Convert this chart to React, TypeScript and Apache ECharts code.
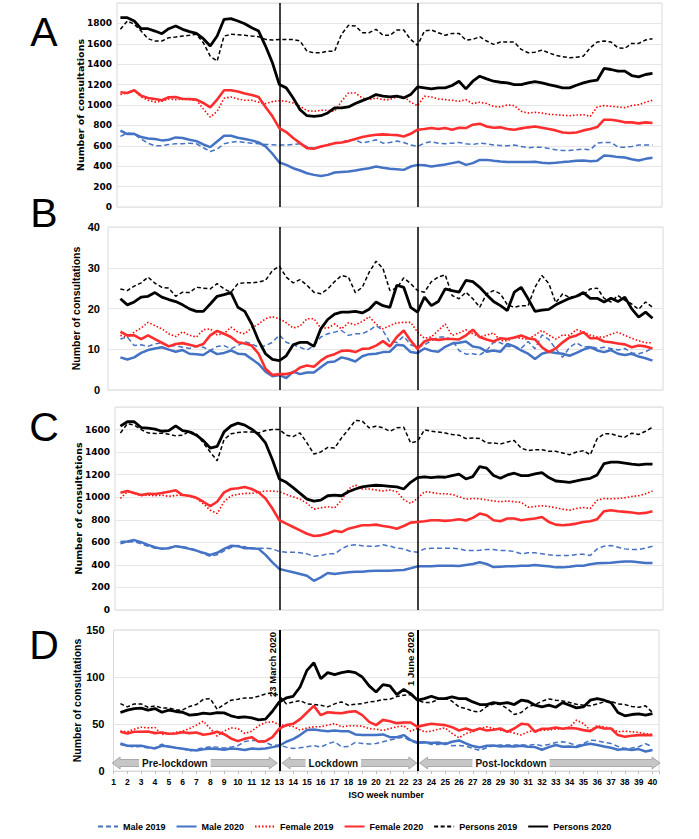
import React, { useEffect, useRef } from "react";
import * as echarts from "echarts";

// x positions: half-week steps from week 1.5 to week 40
const weeks = Array.from({ length: 78 }, (_, i) => 1.5 + i * 0.5);
const seriesNames = ["Male 2019", "Male 2020", "Female 2019", "Female 2020", "Persons 2019", "Persons 2020"];
const xTickWeeks = Array.from({ length: 40 }, (_, i) => i + 1);

// ---------- Panel A ----------
const aMale2019 = [
  692, 725, 715, 666, 626, 600, 600, 613, 620, 620, 626, 620,
  581, 544, 567, 620, 633, 643, 633, 626, 620, 613, 610, 607,
  607, 613, 620, 594, 577, 587, 610, 626, 633, 659, 659, 626,
  643, 659, 626, 633, 646, 633, 607, 594, 626, 640, 626, 620,
  626, 633, 620, 613, 626, 620, 607, 604, 600, 607, 594, 581,
  587, 587, 574, 561, 554, 554, 561, 567, 561, 626, 633, 633,
  587, 587, 594, 607, 607, 607];
const aMale2020 = [
  748, 715, 718, 686, 672, 666, 653, 659, 682, 676, 659, 646,
  613, 587, 643, 699, 699, 679, 666, 653, 633, 594, 522, 436,
  413, 380, 358, 331, 315, 305, 315, 338, 344, 348, 358, 371,
  380, 397, 384, 374, 371, 364, 397, 413, 410, 397, 407, 417,
  430, 443, 413, 430, 462, 462, 453, 446, 440, 440, 440, 440,
  443, 433, 430, 433, 440, 446, 453, 456, 449, 453, 505, 499,
  489, 485, 469, 456, 472, 482];
const aFemale2019 = [
  1102, 1118, 1145, 1079, 1046, 1030, 1036, 1059, 1053, 1059, 1053, 1046,
  961, 882, 938, 1066, 1079, 1059, 1046, 1046, 1027, 1014, 1033, 1043,
  1036, 1020, 987, 945, 938, 948, 948, 938, 1036, 1118, 1118, 1069,
  1053, 1069, 1053, 1053, 1079, 1086, 1027, 994, 1086, 1079, 1059, 1053,
  1046, 1036, 1053, 1014, 1027, 1014, 987, 981, 1000, 994, 938, 922,
  928, 922, 909, 905, 899, 895, 902, 905, 889, 981, 994, 987,
  981, 974, 994, 1004, 1027, 1046];
const aFemale2020 = [
  1125, 1118, 1145, 1092, 1069, 1059, 1046, 1076, 1079, 1059, 1059, 1053,
  1020, 977, 1053, 1145, 1145, 1132, 1112, 1099, 1079, 981, 889, 774,
  735, 676, 626, 577, 571, 594, 607, 626, 633, 646, 666, 686,
  699, 708, 712, 708, 705, 692, 718, 758, 764, 774, 764, 774,
  758, 777, 774, 807, 817, 790, 777, 781, 764, 758, 771, 781,
  790, 777, 764, 751, 731, 725, 731, 751, 764, 784, 856, 856,
  846, 830, 830, 820, 830, 823];
const aPersons2019 = [
  1742, 1824, 1791, 1725, 1650, 1627, 1627, 1660, 1666, 1676, 1683, 1693,
  1611, 1479, 1430, 1676, 1693, 1689, 1683, 1676, 1670, 1643, 1637, 1643,
  1643, 1643, 1627, 1528, 1512, 1512, 1528, 1528, 1693, 1781, 1774, 1709,
  1709, 1742, 1683, 1683, 1735, 1735, 1643, 1584, 1725, 1735, 1709, 1683,
  1702, 1702, 1637, 1643, 1670, 1627, 1594, 1617, 1617, 1617, 1545, 1512,
  1518, 1538, 1512, 1486, 1473, 1463, 1469, 1479, 1561, 1617, 1627, 1617,
  1561, 1555, 1604, 1604, 1637, 1650];
const aPersons2020 = [
  1856, 1856, 1824, 1748, 1748, 1725, 1699, 1748, 1774, 1742, 1719, 1702,
  1650, 1578, 1676, 1840, 1847, 1824, 1797, 1758, 1725, 1578, 1414, 1200,
  1168, 1069, 954, 895, 889, 895, 922, 971, 971, 981, 1014, 1043,
  1069, 1102, 1086, 1079, 1086, 1069, 1102, 1178, 1168, 1158, 1168, 1168,
  1191, 1233, 1158, 1233, 1282, 1256, 1233, 1223, 1217, 1200, 1200, 1217,
  1230, 1217, 1200, 1184, 1168, 1168, 1194, 1217, 1233, 1243, 1358, 1348,
  1332, 1332, 1289, 1276, 1299, 1309];

// ---------- Panel B ----------
const bMale2019 = [
  12.5, 13.0, 10.9, 11.1, 10.7, 11.3, 11.6, 10.7, 10.9, 10.5, 10.2, 10.7,
  10.5, 9.7, 10.7, 10.9, 10.1, 10.9, 11.9, 11.3, 10.5, 10.9, 11.7, 13.5,
  11.7, 11.1, 10.5, 9.8, 10.9, 13.0, 13.8, 14.2, 14.6, 13.4, 13.8, 13.8,
  14.6, 15.8, 14.6, 11.7, 11.7, 13.2, 11.1, 10.5, 11.1, 12.1, 13.0, 13.0,
  12.4, 9.7, 8.8, 8.9, 8.6, 9.7, 11.7, 11.6, 10.7, 10.7, 10.2, 11.9,
  10.1, 13.5, 12.4, 10.1, 8.0, 10.5, 11.6, 10.5, 10.7, 10.2, 10.5, 10.2,
  9.8, 10.2, 9.1, 8.9, 9.4, 10.2];
const bMale2020 = [
  8.0, 7.5, 8.0, 9.1, 9.8, 10.2, 10.5, 9.9, 9.4, 9.8, 8.9, 8.8,
  8.6, 9.7, 8.8, 9.1, 9.7, 8.9, 8.8, 7.6, 6.4, 4.5, 3.4, 3.7,
  2.9, 4.5, 3.9, 4.3, 4.3, 5.6, 6.8, 7.0, 8.0, 7.6, 7.0, 8.3,
  8.8, 8.9, 9.3, 9.4, 11.1, 10.9, 9.3, 9.1, 10.2, 9.6, 9.4, 10.6,
  11.4, 11.6, 11.9, 10.7, 10.4, 9.4, 9.7, 9.4, 11.3, 10.7, 9.7, 8.9,
  7.6, 8.9, 9.4, 9.1, 8.9, 8.4, 9.1, 9.9, 10.5, 9.7, 9.3, 9.8,
  8.9, 8.6, 8.9, 8.2, 7.8, 7.2];
const bFemale2019 = [
  13.4, 13.0, 14.2, 15.2, 16.6, 15.8, 15.0, 13.8, 13.1, 14.3, 13.4, 13.0,
  14.8, 15.0, 13.5, 13.9, 15.4, 14.2, 13.8, 15.2, 16.2, 17.5, 18.0, 17.5,
  16.5, 15.2, 15.7, 17.5, 17.5, 15.2, 15.2, 16.2, 15.0, 16.5, 16.0, 16.8,
  18.0, 16.2, 15.0, 15.8, 16.5, 16.6, 16.6, 14.2, 12.7, 13.0, 14.6, 16.2,
  13.4, 14.0, 14.8, 13.8, 13.0, 13.5, 14.0, 12.1, 12.1, 12.9, 12.7, 12.4,
  13.5, 14.6, 13.5, 12.5, 13.5, 13.4, 14.8, 14.3, 13.5, 13.0, 13.0, 13.7,
  14.2, 13.4, 12.7, 12.1, 11.6, 11.6];
const bFemale2020 = [
  14.3, 13.4, 13.4, 12.5, 13.4, 12.5, 11.6, 10.7, 11.3, 11.5, 11.1, 10.7,
  11.3, 13.4, 14.5, 13.8, 13.0, 11.7, 11.4, 10.9, 8.9, 5.2, 3.7, 3.9,
  3.9, 4.3, 5.5, 6.0, 5.7, 7.2, 8.3, 8.8, 9.6, 9.7, 9.3, 10.1,
  10.2, 10.9, 12.0, 10.7, 13.0, 14.6, 12.1, 10.1, 11.9, 12.5, 12.3, 12.5,
  12.5, 12.4, 13.4, 14.8, 13.0, 12.4, 11.9, 12.7, 12.5, 12.9, 13.4, 12.7,
  12.4, 10.5, 9.3, 10.2, 11.7, 12.9, 13.4, 14.2, 12.7, 12.7, 11.9, 11.7,
  11.4, 11.2, 10.5, 10.9, 10.7, 10.2];
const bPersons2019 = [
  24.8, 24.4, 25.5, 26.3, 27.7, 26.2, 25.2, 25.0, 23.0, 24.0, 23.9, 25.2,
  25.0, 24.8, 26.1, 24.8, 24.0, 26.1, 26.3, 26.3, 26.5, 26.9, 29.3, 30.4,
  27.7, 26.3, 27.1, 25.7, 24.0, 23.6, 24.8, 26.6, 28.1, 27.7, 23.9, 25.2,
  28.9, 31.6, 29.8, 24.4, 25.0, 27.5, 26.1, 24.4, 24.0, 26.6, 27.7, 28.3,
  23.2, 22.4, 24.0, 22.4, 20.3, 23.6, 24.4, 23.6, 20.9, 20.3, 20.7, 20.7,
  25.2, 28.1, 26.1, 21.4, 23.6, 22.7, 23.0, 23.4, 24.8, 25.0, 22.5, 21.6,
  23.2, 22.0, 21.1, 19.8, 21.6, 20.3];
const bPersons2020 = [
  22.4, 20.9, 21.6, 22.8, 23.0, 23.9, 22.8, 22.2, 21.7, 20.9, 19.9, 19.3,
  19.3, 21.1, 23.0, 23.4, 23.9, 20.3, 19.3, 16.2, 12.1, 8.9, 7.5, 7.2,
  8.4, 11.1, 11.7, 11.7, 10.7, 15.0, 17.3, 18.6, 19.1, 19.1, 19.3, 18.9,
  19.8, 21.6, 20.7, 20.3, 25.7, 25.2, 20.3, 19.1, 22.8, 20.7, 21.7, 24.8,
  24.4, 24.0, 26.9, 26.6, 25.2, 23.4, 21.7, 20.7, 19.5, 24.0, 25.2, 22.4,
  19.3, 19.6, 19.8, 20.9, 21.7, 22.5, 23.0, 23.9, 22.5, 22.5, 21.6, 22.5,
  21.7, 22.8, 19.9, 17.9, 19.1, 17.6];

// ---------- Panel C ----------
const cMale2019 = [
  587, 602, 605, 587, 566, 548, 548, 554, 566, 563, 548, 530,
  498, 477, 489, 524, 554, 572, 560, 542, 548, 548, 542, 519,
  513, 513, 507, 498, 477, 483, 498, 498, 542, 572, 578, 569,
  566, 566, 578, 566, 548, 542, 519, 513, 542, 548, 548, 548,
  548, 542, 527, 527, 530, 536, 536, 527, 527, 519, 498, 507,
  507, 498, 489, 483, 483, 483, 492, 495, 483, 542, 566, 572,
  557, 542, 536, 536, 548, 566];
const cMale2020 = [
  602, 608, 620, 602, 578, 557, 542, 548, 566, 557, 542, 527,
  507, 489, 507, 542, 569, 566, 548, 548, 542, 489, 423, 364,
  349, 334, 319, 304, 259, 289, 328, 319, 328, 334, 340, 340,
  346, 349, 349, 349, 352, 355, 370, 387, 387, 387, 393, 393,
  393, 390, 399, 408, 423, 408, 381, 384, 387, 387, 393, 393,
  399, 393, 387, 378, 378, 384, 393, 393, 405, 414, 417, 420,
  426, 429, 429, 423, 417, 417];
const cFemale2019 = [
  989, 1049, 1034, 1013, 1019, 1013, 1019, 1007, 1016, 1019, 1007, 992,
  942, 885, 855, 960, 1013, 1025, 1034, 1034, 1043, 1055, 1055, 1049,
  1025, 1004, 983, 945, 894, 906, 915, 906, 974, 1073, 1109, 1073,
  1073, 1064, 1055, 1064, 1049, 980, 945, 989, 1049, 1043, 1031, 1031,
  1025, 1004, 983, 989, 986, 977, 966, 960, 966, 960, 954, 912,
  918, 924, 918, 906, 894, 885, 900, 909, 900, 974, 989, 986,
  989, 995, 1007, 1013, 1031, 1055];
const cFemale2020 = [
  1040, 1055, 1037, 1019, 1031, 1028, 1037, 1049, 1061, 1019, 1013, 995,
  960, 921, 960, 1043, 1073, 1079, 1091, 1073, 1043, 989, 900, 796,
  766, 736, 706, 676, 656, 662, 679, 703, 691, 721, 736, 751,
  751, 757, 745, 736, 721, 745, 775, 781, 787, 796, 796, 790,
  796, 805, 793, 817, 855, 840, 796, 787, 811, 811, 796, 805,
  811, 825, 781, 757, 751, 757, 766, 781, 787, 805, 876, 885,
  876, 870, 864, 855, 861, 876];
const cPersons2019 = [
  1570, 1651, 1639, 1600, 1570, 1565, 1568, 1559, 1544, 1550, 1585, 1562,
  1481, 1401, 1323, 1511, 1562, 1573, 1579, 1579, 1570, 1591, 1600, 1600,
  1550, 1538, 1570, 1481, 1383, 1401, 1442, 1436, 1526, 1600, 1681, 1675,
  1615, 1630, 1615, 1585, 1615, 1621, 1481, 1496, 1597, 1585, 1579, 1570,
  1556, 1550, 1520, 1526, 1520, 1481, 1481, 1472, 1490, 1502, 1436, 1413,
  1421, 1421, 1407, 1407, 1392, 1377, 1401, 1413, 1377, 1520, 1562, 1562,
  1544, 1532, 1568, 1556, 1585, 1621];
const cPersons2020 = [
  1630, 1669, 1669, 1618, 1612, 1603, 1585, 1591, 1633, 1591, 1579, 1550,
  1502, 1436, 1451, 1579, 1633, 1657, 1639, 1603, 1556, 1481, 1332, 1162,
  1132, 1085, 1034, 983, 966, 974, 1013, 1019, 1013, 1049, 1073, 1091,
  1100, 1106, 1103, 1097, 1091, 1073, 1132, 1174, 1180, 1174, 1180, 1177,
  1192, 1204, 1162, 1183, 1272, 1258, 1192, 1168, 1198, 1213, 1192, 1192,
  1207, 1219, 1174, 1144, 1138, 1132, 1144, 1159, 1168, 1198, 1299, 1311,
  1311, 1302, 1293, 1287, 1293, 1293];

// ---------- Panel D ----------
const dMale2019 = [
  28.3, 26.5, 25.8, 26.1, 24.4, 24.7, 28.6, 25.4, 24.4, 24.0, 21.2, 23.0,
  24.7, 25.8, 25.4, 24.4, 25.4, 26.9, 31.4, 32.5, 32.5, 30.4, 27.2, 27.6,
  25.4, 24.0, 24.7, 25.8, 26.9, 25.4, 29.0, 31.1, 25.8, 26.1, 30.4, 29.3,
  28.6, 29.3, 31.1, 32.9, 34.6, 36.0, 31.8, 29.3, 30.4, 28.3, 28.3, 30.0,
  26.9, 27.2, 26.5, 24.0, 21.9, 24.7, 26.9, 27.6, 27.6, 27.6, 27.9, 27.2,
  28.3, 26.9, 28.3, 30.4, 31.1, 29.7, 26.9, 29.0, 32.9, 32.2, 30.4, 29.3,
  26.1, 24.0, 24.4, 25.8, 29.0, 25.8];
const dMale2020 = [
  29.3, 26.9, 26.9, 26.9, 25.4, 24.0, 26.9, 26.1, 24.7, 23.7, 22.6, 21.9,
  23.0, 24.0, 23.3, 22.6, 24.0, 23.3, 22.3, 24.0, 23.3, 24.0, 25.4, 26.9,
  31.1, 33.9, 38.2, 43.5, 44.2, 43.1, 42.4, 43.1, 42.4, 42.4, 38.9, 38.2,
  38.2, 38.2, 38.9, 36.0, 36.0, 38.2, 32.9, 30.4, 30.7, 29.7, 30.4, 28.6,
  31.1, 32.5, 29.3, 26.5, 25.1, 26.9, 27.2, 26.1, 26.5, 26.1, 26.9, 25.8,
  25.4, 22.6, 25.4, 27.6, 25.8, 26.1, 25.4, 27.6, 29.0, 27.6, 26.1, 24.7,
  22.6, 23.3, 22.3, 23.3, 20.8, 22.3];
const dFemale2019 = [
  42.4, 41.7, 44.5, 46.6, 45.9, 46.3, 38.9, 39.6, 41.0, 42.4, 45.2, 48.8,
  53.0, 45.2, 37.1, 42.4, 45.9, 45.2, 39.9, 42.4, 48.1, 51.6, 52.3, 49.5,
  48.1, 47.3, 43.5, 45.9, 47.0, 47.0, 48.8, 50.5, 47.0, 48.1, 48.1, 47.7,
  45.2, 44.5, 43.1, 45.2, 47.0, 48.1, 42.4, 45.2, 41.7, 42.4, 44.5, 45.9,
  39.9, 35.3, 39.9, 41.7, 45.2, 47.0, 45.2, 43.5, 42.4, 40.3, 38.2, 41.7,
  43.5, 43.1, 43.8, 44.5, 45.2, 46.6, 54.1, 50.5, 43.5, 48.1, 47.0, 45.2,
  41.7, 42.4, 41.7, 41.0, 39.6, 38.9];
const dFemale2020 = [
  41.7, 39.9, 41.7, 41.7, 42.0, 40.3, 41.0, 39.6, 39.9, 41.3, 40.3, 41.0,
  38.5, 39.6, 41.7, 39.2, 34.6, 31.8, 34.3, 36.0, 31.1, 31.8, 36.0, 45.2,
  48.8, 50.2, 55.1, 62.2, 69.3, 59.4, 62.5, 61.8, 61.5, 62.9, 63.6, 59.4,
  52.3, 48.8, 54.4, 53.0, 50.9, 51.6, 51.6, 47.0, 48.8, 50.2, 49.5, 48.8,
  46.6, 43.1, 45.2, 42.8, 45.2, 43.1, 43.8, 45.2, 41.7, 45.2, 50.2, 49.5,
  41.7, 44.9, 44.9, 46.3, 44.9, 45.9, 45.2, 43.5, 42.4, 47.0, 45.2, 45.2,
  38.2, 36.4, 37.5, 38.2, 38.2, 38.2];
const dPersons2019 = [
  71.7, 68.2, 71.4, 71.4, 67.8, 69.3, 67.1, 67.1, 65.0, 65.0, 68.6, 70.7,
  76.3, 77.0, 65.7, 70.7, 75.3, 76.3, 77.7, 77.7, 79.5, 82.0, 83.4, 79.9,
  71.4, 73.5, 74.9, 71.4, 70.7, 70.0, 68.2, 71.4, 73.5, 70.0, 71.0, 71.7,
  73.5, 74.2, 76.0, 76.3, 79.2, 80.6, 81.3, 75.3, 72.8, 72.8, 76.3, 77.7,
  74.2, 68.2, 66.4, 63.6, 62.9, 68.6, 71.4, 70.7, 66.4, 60.1, 62.2, 68.2,
  70.7, 74.2, 76.7, 75.3, 74.6, 72.8, 71.0, 70.0, 69.3, 71.4, 73.5, 74.2,
  71.4, 70.7, 68.6, 67.8, 69.3, 62.2];
const dPersons2020 = [
  62.2, 64.7, 66.4, 66.8, 64.7, 66.4, 62.5, 64.7, 63.3, 62.5, 59.4, 60.1,
  61.5, 60.8, 62.2, 61.8, 58.7, 56.9, 57.6, 56.5, 54.4, 55.1, 63.6, 73.5,
  77.7, 79.5, 89.4, 107.1, 115.2, 98.2, 104.6, 102.5, 104.6, 106.0, 104.6, 100.0,
  90.5, 84.1, 91.9, 90.5, 81.3, 86.9, 82.3, 75.3, 77.0, 79.5, 77.0, 77.0,
  78.8, 77.0, 77.0, 73.5, 70.7, 70.7, 72.8, 71.7, 72.8, 70.7, 75.3, 74.2,
  70.0, 68.2, 70.0, 67.8, 72.8, 70.0, 67.1, 68.2, 75.3, 77.0, 75.3, 72.8,
  62.2, 58.7, 60.1, 60.8, 59.4, 61.1];

// lockdown markers and phases (in ISO weeks)
const lockdownWeeks = [13, 23];
const lockdownLabels = ["23 March 2020", "1 June 2020"];
const phaseNames = ["Pre-lockdown", "Lockdown", "Post-lockdown"];
const phaseStart = [0.9, 13.2, 23.15];
const phaseEnd = [12.85, 22.95, 40.55];
const phaseLevel = 8.5;

// ---------- layout / style ----------
const PX_PER_WEEK = 13.82;
const WEEK1_X = 113.5;

const lineStyles = [
  { color: "#4472C4", width: 1.5, type: [5, 3] },
  { color: "#4472C4", width: 2.5, type: "solid" },
  { color: "#FF0000", width: 1.6, type: [1.5, 2] },
  { color: "#FF2E2E", width: 2.6, type: "solid" },
  { color: "#000000", width: 1.5, type: [4, 2.5] },
  { color: "#000000", width: 2.8, type: "solid" },
];

const panels = [
  { letter: "A", letterY: 32, data: [aMale2019, aMale2020, aFemale2019, aFemale2020, aPersons2019, aPersons2020],
    yMax: 2000, yStep: 200, showMax: false, left: 117, top: 3, width: 545, height: 204,
    font: "DejaVu Sans", labelSize: 9, nameSize: 9.5, labelMargin: 5, nameGap: 32 },
  { letter: "B", letterY: 213, data: [bMale2019, bMale2020, bFemale2019, bFemale2020, bPersons2019, bPersons2020],
    yMax: 40, yStep: 10, showMax: true, left: 108, top: 227, width: 555, height: 163,
    font: "Liberation Sans", labelSize: 11, nameSize: 10.5, labelMargin: 8, nameGap: 27 },
  { letter: "C", letterY: 427, data: [cMale2019, cMale2020, cFemale2019, cFemale2020, cPersons2019, cPersons2020],
    yMax: 1800, yStep: 200, showMax: false, left: 115, top: 407, width: 548, height: 203,
    font: "DejaVu Sans", labelSize: 9, nameSize: 9.5, labelMargin: 5, nameGap: 32 },
  { letter: "D", letterY: 645, data: [dMale2019, dMale2020, dFemale2019, dFemale2020, dPersons2019, dPersons2020],
    yMax: 150, yStep: 50, showMax: true, left: 113.5, top: 630, width: 545.5, height: 141,
    font: "Liberation Sans", labelSize: 11, nameSize: 10.5, labelMargin: 9, nameGap: 31 },
];

function buildOption() {
  const grid: any[] = [];
  const xAxis: any[] = [];
  const yAxis: any[] = [];
  const series: any[] = [];
  const graphic: any[] = [];

  panels.forEach((p, pi) => {
    const isLast = pi === panels.length - 1;
    const xMin = 1 + (p.left - WEEK1_X) / PX_PER_WEEK;
    const xMax = xMin + p.width / PX_PER_WEEK;
    grid.push({ left: p.left, top: p.top, width: p.width, height: p.height, show: true,
      borderColor: "#D9D9D9", borderWidth: 1, backgroundColor: "#fff", containLabel: false });
    xAxis.push({
      gridIndex: pi, type: "value", min: isLast ? 1 : xMin, max: xMax,
      interval: isLast ? 1 : undefined, show: isLast,
      axisLine: { show: true, lineStyle: { color: "#D9D9D9", width: 1 } },
      axisTick: { show: true, length: 3, lineStyle: { color: "#BFBFBF" } },
      splitLine: { show: false },
      axisLabel: {
        show: true, margin: 6, fontFamily: "Liberation Sans", fontWeight: "bold", fontSize: 8.5, color: "#000",
        formatter: (v: number) => (xTickWeeks.indexOf(v) >= 0 ? String(v) : ""),
      },
      name: isLast ? "ISO week number" : "", nameLocation: "middle", nameGap: 19, nameMoveOverlap: false,
      nameTextStyle: { fontFamily: "Liberation Sans", fontWeight: "bold", fontSize: 9, color: "#000" },
    });
    yAxis.push({
      gridIndex: pi, type: "value", min: 0, max: p.yMax, interval: p.yStep,
      axisLine: { show: false }, axisTick: { show: false },
      splitLine: { show: true, lineStyle: { color: "#E6E6E6", width: 1.2 } },
      axisLabel: { showMaxLabel: p.showMax, margin: p.labelMargin, fontFamily: p.font, fontWeight: "bold",
        fontSize: p.labelSize, color: "#000", formatter: (v: number) => String(v) },
      name: "Number of consultations", nameLocation: "middle", nameGap: p.nameGap, nameMoveOverlap: false,
      nameTextStyle: { fontFamily: p.font, fontWeight: "bold", fontSize: p.nameSize, color: "#000" },
    });
    p.data.forEach((arr, si) => {
      const ls = lineStyles[si];
      const s: any = {
        name: seriesNames[si], type: "line", xAxisIndex: pi, yAxisIndex: pi,
        data: weeks.map((w, i) => [w, arr[i]]), symbol: "none", showSymbol: false,
        lineStyle: { color: ls.color, width: ls.width, type: ls.type },
        itemStyle: { color: ls.color }, z: 2 + si, silent: true,
      };
      if (si === 5) {
        s.markLine = {
          symbol: "none", silent: true, animation: false,
          lineStyle: { color: "#000", width: isLast ? 2 : 1.5, type: "solid" },
          data: lockdownWeeks.map((w, k) => ({
            xAxis: w,
            label: isLast
              ? { show: true, position: "insideEndTop", formatter: lockdownLabels[k], distance: 2,
                  fontFamily: "Liberation Sans", fontWeight: "bold", fontSize: 9.5, color: "#000" }
              : { show: false },
          })),
        };
      }
      series.push(s);
    });
    graphic.push({ type: "text", x: 44, y: p.letterY, style: { text: p.letter, font: '41px "Liberation Sans"',
      fill: "#000", align: "center", verticalAlign: "middle" } });
  });

  const last = panels.length - 1;
  series.push({
    name: "phases", type: "custom", xAxisIndex: last, yAxisIndex: last, clip: false, silent: true, z: 10,
    encode: { x: [0, 1], y: 2 },
    data: phaseNames.map((_, i) => [phaseStart[i], phaseEnd[i], phaseLevel, i]),
    renderItem: (params: any, api: any) => {
      const x0 = api.value(0), x1 = api.value(1), lvl = api.value(2), idx = api.value(3);
      const p0 = api.coord([x0, lvl]);
      const p1 = api.coord([x1, lvl]);
      const yc = p0[1];
      const a = p0[0], b = p1[0];
      const hl = 8, hh = 6, bh = 3.5;
      const points = [[a, yc], [a + hl, yc - hh], [a + hl, yc - bh], [b - hl, yc - bh], [b - hl, yc - hh], [b, yc],
        [b - hl, yc + hh], [b - hl, yc + bh], [a + hl, yc + bh], [a + hl, yc + hh]];
      const lx = api.coord([x0 + (x1 - x0) * 0.38, lvl])[0];
      return {
        type: "group",
        children: [
          { type: "polygon", shape: { points }, style: { fill: "#C6C6C6", stroke: "#9C9C9C", lineWidth: 0.8 } },
          { type: "text", x: lx, y: yc, style: { text: phaseNames[idx], fill: "#111",
            font: 'bold 10px "Liberation Sans"', align: "center", verticalAlign: "middle",
            backgroundColor: "#fff", padding: [1, 3] } },
        ],
      };
    },
  });

  return {
    animation: false,
    backgroundColor: "#fff",
    grid, xAxis, yAxis, series, graphic,
    legend: {
      data: seriesNames, left: 92, top: 817, itemWidth: 20, itemHeight: 8, itemGap: 10,
      itemStyle: { opacity: 0 },
      textStyle: { fontFamily: "Liberation Sans", fontWeight: "bold", fontSize: 9, color: "#000" },
      selectedMode: false,
    },
  };
}

export default function App() {
  const ref = useRef<HTMLDivElement>(null);
  useEffect(() => {
    if (!ref.current) return;
    const chart = echarts.init(ref.current, undefined, { renderer: "svg" });
    chart.setOption(buildOption() as any);
    return () => chart.dispose();
  }, []);
  return <div ref={ref} style={{ position: "absolute", left: 0, top: 0, width: 699, height: 839 }} />;
}
